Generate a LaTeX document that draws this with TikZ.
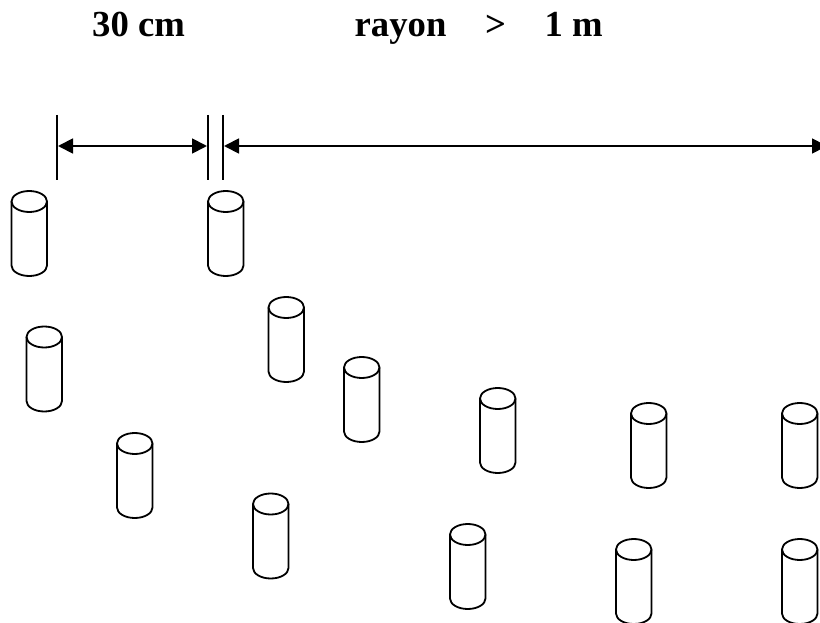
\documentclass[tikz,border=0pt]{standalone}
\usepackage{fontspec}
\setmainfont{Liberation Serif}
\usetikzlibrary{arrows.meta}
\tikzset{
  lbl/.style={font=\fontsize{36.7}{40}\selectfont\bfseries, anchor=base west, inner sep=0pt},
  ink/.style={line width=1.8pt, black},
  tick/.style={ink},
  dim/.style={ink, {Triangle[length=15pt,width=15pt]}-{Triangle[length=15pt,width=15pt]}},
  pics/cyl/.style={code={
    \draw[ink, line join=round] (0,10.5) -- (0,74.5) arc[start angle=180, end angle=360, x radius=17.75, y radius=-10.5] -- (35.5,10.5);
    \draw[ink] (17.75,10.5) ellipse[x radius=17.75, y radius=10.5];
  }}
}
\begin{document}
\begin{tikzpicture}[x=1pt,y=-1pt]
\useasboundingbox (0,0) rectangle (820,623);
\node[lbl] (t1) at (92,37) {30 cm};
\node[lbl] (t2) at (354.5,37) {rayon};
\node[lbl] (t3) at (485,37) {>};
\node[lbl] (t4) at (544.5,37) {1 m};
\coordinate (a1) at (57,115); \coordinate (a2) at (57,180);
\coordinate (b1) at (208,115); \coordinate (b2) at (208,180);
\coordinate (c1) at (223,115); \coordinate (c2) at (223,180);
\draw[tick] (a1) -- (a2);
\draw[tick] (b1) -- (b2);
\draw[tick] (c1) -- (c2);
\coordinate (l) at (58,146); \coordinate (m) at (207,146);
\coordinate (n) at (224,146); \coordinate (r) at (827,146);
\draw[dim] (l) -- (m);
\begin{scope}
\clip (0,0) rectangle (820,623);
\draw[dim] (n) -- (r);
\end{scope}
\foreach \i/\x/\y in {a/11.5/191, b/208/191, c/268.5/297, d/26.5/326.5, e/344/357, f/117/433, g/480/388, h/631/403, i/782/403, j/253/493.5, k/450/524, o/616/539, p/782/539}
  \pic (cyl\i) at (\x,\y) {cyl};
\end{tikzpicture}
\end{document}
